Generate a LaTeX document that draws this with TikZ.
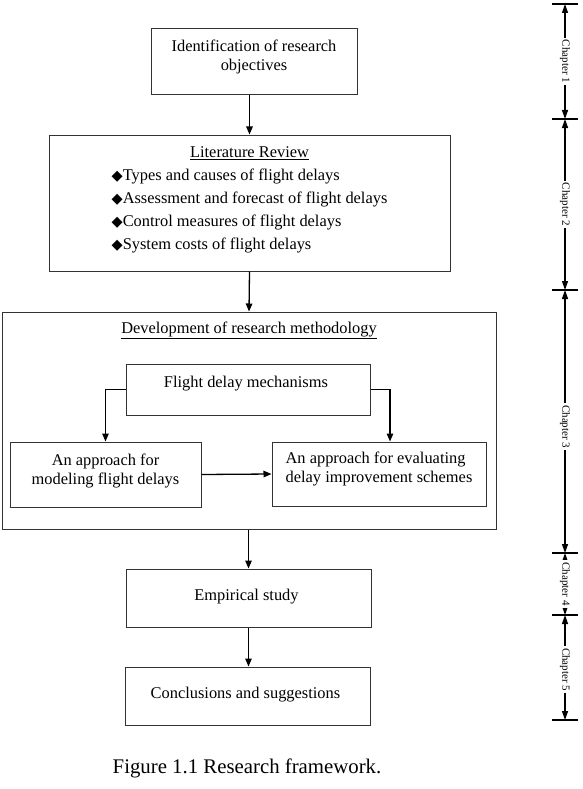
\documentclass[tikz,border=0pt]{standalone}
\usepackage{fontspec}
\setmainfont{Liberation Serif}
\newfontfamily\symbolfont{DejaVu Sans}
\usetikzlibrary{positioning,arrows.meta}

\newcommand{\bodysize}{\fontsize{16.4}{19.5}\selectfont}
\newcommand{\chaptersize}{\fontsize{11}{12}\selectfont}
\newcommand{\itemmark}{{\symbolfont\fontsize{14.5}{14}\selectfont ◆}}

\begin{document}
\begin{tikzpicture}[
    x=1pt, y=-1pt,
    box/.style = {
        rectangle,
        draw=black!80,
        line width=1pt,
        align=center,
        inner sep=0pt,
        font=\bodysize
    },
    arrow/.style      = {-{Triangle[length=8pt,width=6.5pt]}, line width=1.3pt, draw=black},
    rulerarrow/.style = {{Triangle[length=9pt,width=6pt]}-{Triangle[length=9pt,width=6pt]}, line width=1.3pt, draw=black},
    tickline/.style   = {line width=1.3pt, draw=black},
    chapterlabel/.style = {rotate=-90, fill=white, inner sep=2pt, font=\chaptersize}
]

\useasboundingbox (0,0) rectangle (582,789);

% Top boxes
\node[box, minimum width=206, minimum height=66, text depth=13.6pt] (objectives) at (254,62) {
    Identification of research\\
    objectives
};

\node[box, minimum width=401, minimum height=136,
      font=\fontsize{16.4}{23}\selectfont] (litreview) at (249.5,203) {
    \underline{Literature Review}\\
    \begin{tabular}[t]{@{}l@{}}
    \itemmark Types and causes of flight delays\\
    \itemmark Assessment and forecast of flight delays\\
    \itemmark Control measures of flight delays\\
    \itemmark System costs of flight delays
    \end{tabular}\\[1pt]
};

% Methodology block
\node[box, minimum width=494, minimum height=217] (method) at (249,420.5) {};
\node[font=\bodysize, inner sep=0pt] (methodtitle) at (249,330) {\underline{Development of research methodology}};

\node[box, minimum width=244, minimum height=51, text depth=15.6pt] (mechanism) at (248,389.5) {
    Flight delay mechanisms
};

\node[box, minimum width=191, minimum height=65, text depth=10.6pt] (modeling) at (105.5,474.5) {
    An approach for\\
    modeling flight delays
};

\node[box, minimum width=214, minimum height=64, text depth=13.6pt, align=left] (evaluating) at (379,474) {
    An approach for evaluating\\
    delay improvement schemes
};

% Bottom boxes
\node[box, minimum width=245, minimum height=58, text depth=5.6pt] (empirical) at (248.5,598) {
    Empirical study
};

\node[box, minimum width=245, minimum height=58, text depth=6.6pt] (conclusion) at (247.5,696) {
    Conclusions and suggestions
};

\node[font=\fontsize{20.8}{24}\selectfont, inner sep=0pt] (caption) at (247,768) {Figure 1.1 Research framework.};

% Arrows - main flow
\draw[arrow] (litreview.north |- objectives.south) -- (litreview.north);
\draw[arrow] (litreview.south) -- (method.north);
\draw[arrow] (mechanism.west) -| (modeling.north);
\draw[arrow] (mechanism.east) -| ([xshift=11pt]evaluating.north);
\draw[arrow] (modeling.east) -- (evaluating.west);
\draw[arrow] (empirical.north |- method.south) -- (empirical.north);
\draw[arrow] (empirical.south) -- (empirical.south |- conclusion.north);

% Chapter ruler
\coordinate (tick0) at (565,4);
\coordinate (tick1) at (565,119);
\coordinate (tick2) at (565,290);
\coordinate (tick3) at (565,553);
\coordinate (tick4) at (565,615);
\coordinate (tick5) at (565,720);

\draw[tickline] ([xshift=-13pt]tick0) -- ([xshift=13pt]tick0);
\draw[tickline] ([xshift=-13pt]tick1) -- ([xshift=13pt]tick1);
\draw[tickline] ([xshift=-13pt]tick2) -- ([xshift=13pt]tick2);
\draw[tickline] ([xshift=-13pt]tick3) -- ([xshift=13pt]tick3);
\draw[tickline] ([xshift=-13pt]tick4) -- ([xshift=13pt]tick4);
\draw[tickline] ([xshift=-13pt]tick5) -- ([xshift=13pt]tick5);

\draw[rulerarrow] (tick0) -- node[chapterlabel] {Chapter 1} (tick1);
\draw[rulerarrow] (tick1) -- node[chapterlabel] {Chapter 2} (tick2);
\draw[rulerarrow] (tick2) -- node[chapterlabel, pos=0.52] {Chapter 3} (tick3);
\draw[rulerarrow] (tick3) -- node[chapterlabel] {Chapter 4} (tick4);
\draw[rulerarrow] (tick4) -- node[chapterlabel, pos=0.52] {Chapter 5} (tick5);

\end{tikzpicture}
\end{document}
